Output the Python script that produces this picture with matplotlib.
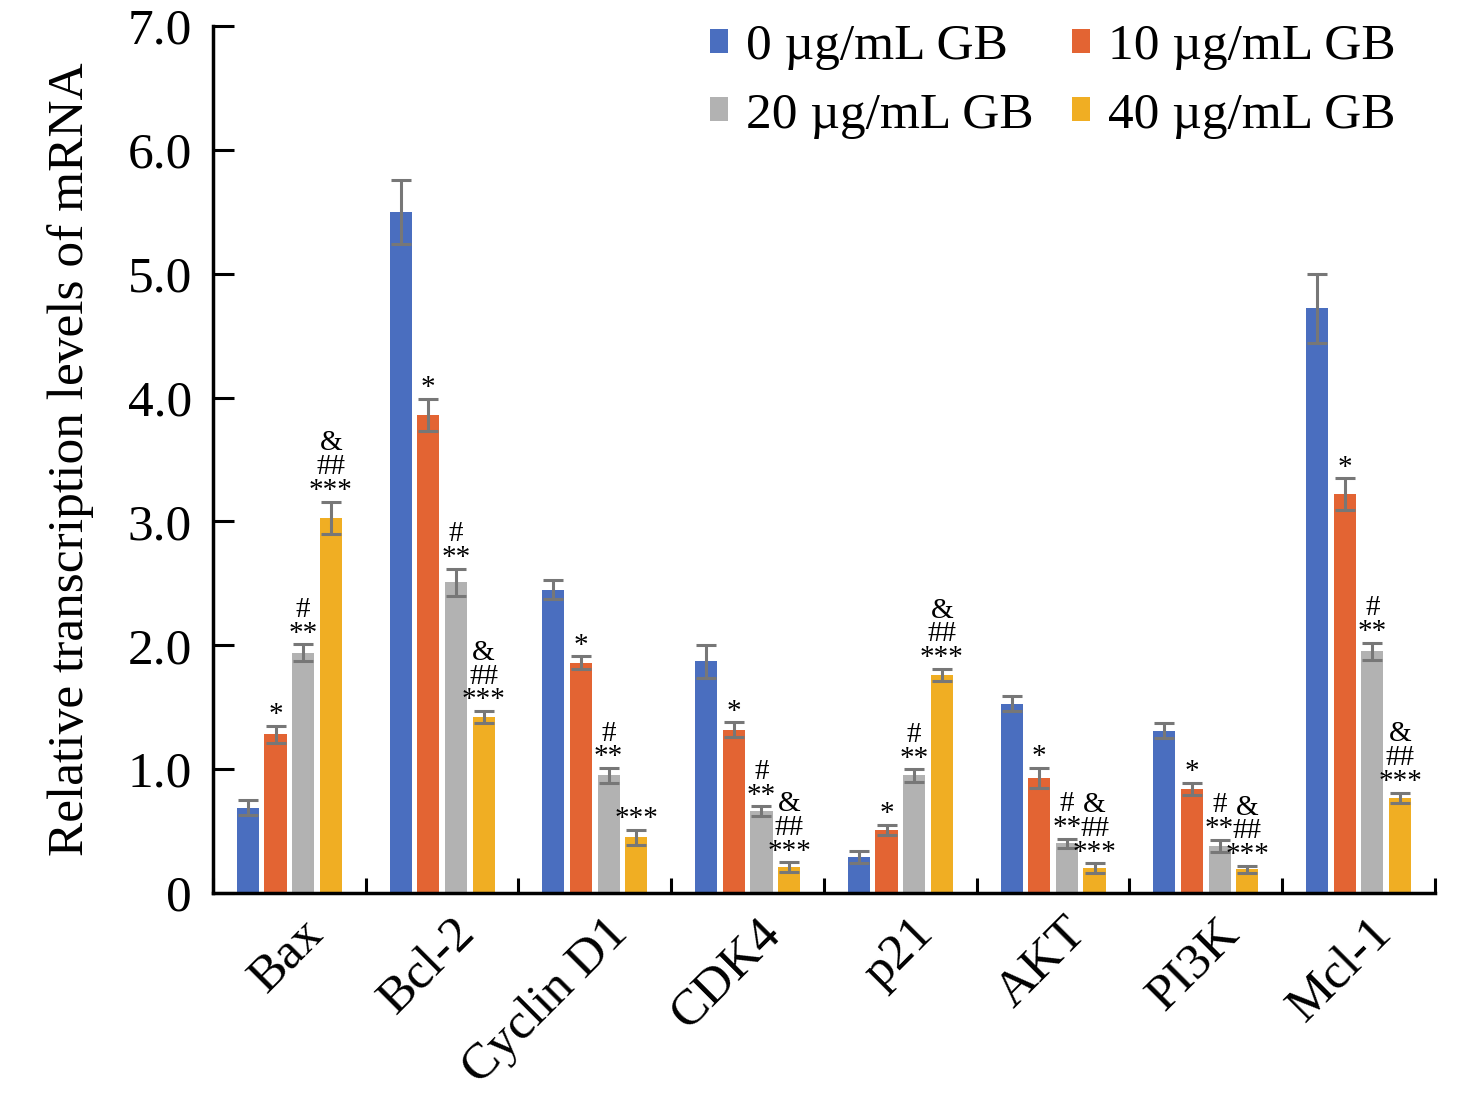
import numpy as np
import matplotlib
matplotlib.use("Agg")
import matplotlib.pyplot as plt
from matplotlib.transforms import ScaledTranslation

plt.rcParams['font.family'] = ['Liberation Serif', 'DejaVu Serif']

genes = ["Bax", "Bcl-2", "Cyclin D1", "CDK4", "p21", "AKT", "PI3K", "Mcl-1"]
doses = ["0 µg/mL GB", "10 µg/mL GB", "20 µg/mL GB", "40 µg/mL GB"]

vals_0 = [0.69, 5.50, 2.45, 1.87, 0.29, 1.53, 1.31, 4.72]
vals_10 = [1.28, 3.86, 1.86, 1.32, 0.51, 0.93, 0.84, 3.22]
vals_20 = [1.94, 2.51, 0.95, 0.66, 0.95, 0.40, 0.38, 1.95]
vals_40 = [3.03, 1.42, 0.45, 0.21, 1.76, 0.20, 0.19, 0.77]

err_0 = [0.06, 0.26, 0.08, 0.13, 0.05, 0.06, 0.06, 0.28]
err_10 = [0.07, 0.13, 0.05, 0.06, 0.04, 0.08, 0.05, 0.13]
err_20 = [0.07, 0.11, 0.06, 0.04, 0.05, 0.04, 0.05, 0.07]
err_40 = [0.13, 0.05, 0.06, 0.04, 0.05, 0.04, 0.03, 0.04]

# significance marks, listed bottom line first
sig_10 = [["*"]] * 8
sig_20 = [["**", "#"]] * 8
sig_40 = [["***", "##", "&"], ["***", "##", "&"], ["***"], ["***", "##", "&"],
          ["***", "##", "&"], ["***", "##", "&"], ["***", "##", "&"], ["***", "##", "&"]]

colors = ["#4A6EBF", "#E36433", "#B2B2B2", "#F0AE23"]

fig = plt.figure(figsize=(14.76, 11.07), dpi=100)
ax = fig.add_axes([0.1443, 0.1933, 0.8279, 0.7832])

x = np.arange(len(genes))
step = 0.181
width = 0.145
series = [(vals_0, err_0, None), (vals_10, err_10, sig_10),
          (vals_20, err_20, sig_20), (vals_40, err_40, sig_40)]

bars = []
for i, (v, e, s) in enumerate(series):
    xs = x + (i - 1.5) * step
    b = ax.bar(xs, v, width, color=colors[i], label=doses[i], zorder=2)
    bars.append(b)
    ax.errorbar(xs, v, yerr=e, fmt="none", ecolor="#777777", elinewidth=2.2,
                capsize=7, capthick=2.2, zorder=3)
    if s is not None:
        for xi, vi, ei, lines in zip(xs, v, e, s):
            for k, txt in enumerate(lines):
                ax.annotate(txt, (xi, vi + ei), xytext=(0, 2.5 + 17.2 * k),
                            textcoords="offset points", ha="center",
                            va="baseline", fontsize=21, zorder=4)

ax.set_xlim(-0.5, len(genes) - 0.5)
ax.set_ylim(0, 7.0)
ax.set_yticks(np.arange(0, 7.01, 1.0))
ax.set_yticklabels(["0"] + [f"{t:.1f}" for t in np.arange(1, 7.01, 1.0)])
ax.set_xticks(x)
ax.set_xticklabels(genes, rotation=45, ha="right", rotation_mode="anchor")
ax.set_xticks(np.arange(-0.5, len(genes)), minor=True)
ax.tick_params(axis="x", which="major", length=0, pad=12, labelsize=37)
ax.tick_params(axis="x", which="minor", direction="in", length=11, width=2.2)
ax.tick_params(axis="y", direction="in", length=15, width=2.2, labelsize=37, pad=15)
shift = ScaledTranslation(10 / 100, 0, fig.dpi_scale_trans)
for lab in ax.get_xticklabels():
    lab.set_transform(lab.get_transform() + shift)

for side in ["top", "right"]:
    ax.spines[side].set_visible(False)
for side in ["left", "bottom"]:
    ax.spines[side].set_linewidth(2.5)

ax.set_ylabel("Relative transcription levels of mRNA", fontsize=37, labelpad=24)

order = [0, 2, 1, 3]
ax.legend([bars[k] for k in order], [doses[k] for k in order],
          loc="upper right", ncol=2, frameon=False, fontsize=37,
          handlelength=0.35, handleheight=0.35, handletextpad=0.35,
          columnspacing=0.75, labelspacing=0.42, borderpad=0, borderaxespad=0,
          bbox_to_anchor=(1396 / 1476, 1083 / 1107), bbox_transform=fig.transFigure)

fig.savefig("out.png", dpi=100)
